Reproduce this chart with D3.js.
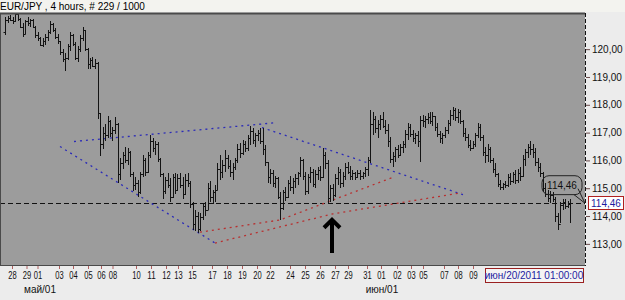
<!DOCTYPE html>
<html>
<head>
<meta charset="utf-8">
<script src="https://cdn.jsdelivr.net/npm/d3@7"></script>
<style>
  body { margin: 0; background: #ececec; }
  svg { display: block; font-family: "Liberation Sans", Arial, sans-serif; }
</style>
</head>
<body>
<script>
// EUR/JPY 4h bars
let hi = [121.15,121.20,121.22,121.15,121.28,121.28,121.12,120.95,121.05,121.15,
    121.10,121.10,120.85,120.60,120.45,120.40,120.55,120.70,121.00,120.95,
    120.75,120.55,120.30,120.00,119.85,120.20,120.60,120.55,120.25,120.10,
    120.50,120.80,120.70,120.05,119.70,119.72,119.65,119.55,117.70,117.20,
    117.30,117.58,117.45,117.20,117.55,117.35,116.10,116.30,116.50,116.45,
    116.35,115.60,115.40,115.30,115.60,116.20,116.10,116.30,116.93,116.80,
    116.70,116.65,116.10,115.55,115.40,115.55,115.35,115.50,115.55,115.50,
    115.55,115.40,115.50,115.55,115.25,114.50,114.20,114.15,114.10,114.45,
    114.50,115.20,115.25,114.95,115.10,115.90,116.20,116.00,116.39,116.20,
    116.00,115.90,116.10,116.60,116.64,116.75,116.70,116.90,117.22,117.15,
    117.00,117.10,117.18,117.15,116.55,115.95,115.70,115.65,115.45,115.40,
    114.85,114.95,115.05,115.30,115.45,115.35,115.50,115.60,116.14,116.05,
    115.60,115.50,115.75,115.70,115.65,115.75,115.80,116.46,116.30,116.00,
    115.10,115.15,115.50,115.75,115.70,115.60,115.90,115.96,115.80,115.65,
    115.60,115.65,115.65,115.60,115.75,116.14,117.83,117.75,117.60,117.45,
    117.65,117.73,117.45,117.30,116.85,116.30,116.50,116.55,116.60,116.70,
    117.10,117.36,117.30,117.10,117.00,117.05,117.60,117.65,117.60,117.70,
    117.73,117.75,117.60,117.35,117.05,117.00,117.20,117.45,117.80,117.91,
    117.88,117.85,117.80,117.45,117.15,116.95,116.75,116.70,117.00,117.36,
    117.30,116.90,116.50,116.60,116.50,116.10,115.90,115.55,115.30,115.20,
    115.25,115.50,115.55,115.60,115.65,115.70,115.78,116.20,116.40,116.60,
    116.71,116.60,116.45,116.10,115.90,115.60,115.20,114.95,114.90,114.85,
    114.70,114.10,114.50,114.60,114.62,114.55,114.60];
let lo = [120.50,120.95,121.00,120.90,120.98,121.02,120.75,120.45,120.55,120.85,
    120.80,120.75,120.40,120.30,120.10,120.07,120.15,120.30,120.55,120.60,
    120.35,120.20,119.80,119.55,119.20,119.60,119.95,120.10,119.60,119.55,
    119.90,120.30,119.95,119.30,119.30,119.35,119.28,117.50,116.15,116.40,
    116.70,116.80,116.85,116.70,116.95,115.20,115.30,115.70,115.90,115.85,
    115.40,114.90,114.95,114.69,114.80,115.40,115.45,115.55,116.10,116.30,
    116.20,115.95,115.40,114.60,114.80,115.00,114.50,114.65,114.80,114.90,
    115.00,114.60,114.75,115.05,114.30,113.50,113.45,113.39,113.45,113.85,
    114.00,114.20,114.50,114.45,114.50,114.95,115.30,115.35,115.60,115.70,
    115.40,115.30,115.65,115.90,116.10,116.20,116.30,116.35,116.55,116.60,
    116.50,116.70,116.60,116.20,115.80,115.20,115.15,115.05,115.00,114.60,
    113.86,114.20,114.55,114.65,114.90,114.80,115.00,115.10,115.40,115.30,
    114.75,114.80,115.20,115.05,115.00,115.30,115.25,115.35,115.70,114.48,
    114.50,114.55,114.70,115.10,115.00,115.05,115.30,115.50,115.30,115.30,
    115.31,115.35,115.30,115.32,115.40,115.45,115.90,116.90,117.00,116.80,
    117.10,117.15,116.95,116.50,115.90,115.78,115.95,116.10,116.15,116.25,
    116.45,116.75,116.85,116.65,116.60,116.50,115.95,117.20,117.15,117.30,
    117.30,117.25,117.05,116.85,116.64,116.60,116.80,116.95,117.25,117.45,
    117.40,117.35,117.30,116.85,116.70,116.45,116.35,116.40,116.50,116.80,
    116.70,116.15,115.92,115.95,115.90,115.55,115.40,115.05,114.95,114.95,
    115.00,115.05,115.10,115.20,115.15,115.20,115.25,115.40,115.80,116.10,
    116.20,116.10,115.80,115.60,115.40,114.85,114.70,114.50,114.48,114.50,
    113.80,113.50,113.75,114.20,114.25,114.30,113.75];
let op = [120.60,121.05,121.12,121.05,121.00,121.25,121.10,120.80,120.55,121.00,
    120.95,121.05,120.80,120.50,120.40,120.15,120.30,120.45,120.60,120.90,
    120.70,120.45,120.30,119.90,119.65,119.70,120.10,120.50,120.20,119.70,
    120.00,120.40,120.70,120.00,119.45,119.60,119.40,119.50,117.70,116.60,
    117.00,116.90,117.40,117.00,117.10,117.30,115.50,115.90,116.20,116.00,
    116.30,115.50,115.10,115.20,114.85,115.50,116.00,115.60,116.20,116.70,
    116.45,116.60,116.05,115.50,114.90,115.30,115.10,114.70,115.40,114.95,
    115.35,115.10,114.80,115.30,115.20,114.45,113.70,114.00,113.55,113.95,
    114.35,114.20,115.00,114.70,114.85,114.95,115.70,115.60,115.85,116.10,
    115.80,115.60,115.75,116.00,116.40,116.25,116.60,116.45,116.80,117.05,
    116.75,116.90,117.00,116.70,116.40,115.95,115.40,115.55,115.20,115.35,
    114.70,114.30,114.85,114.70,115.20,115.05,115.25,115.35,115.55,116.00,
    115.45,114.90,115.40,115.60,115.15,115.50,115.65,115.40,116.20,115.90,
    114.65,115.00,114.75,115.35,115.60,115.20,115.45,115.75,115.60,115.45,
    115.55,115.40,115.55,115.45,115.55,115.70,116.00,117.30,117.50,117.15,
    117.30,117.50,117.25,117.10,116.70,116.05,116.15,116.40,116.20,116.50,
    116.60,116.95,117.20,116.95,116.80,116.90,116.70,117.45,117.40,117.50,
    117.55,117.40,117.60,117.20,116.95,116.80,116.90,117.10,117.35,117.65,
    117.80,117.55,117.75,117.40,117.00,116.85,116.55,116.45,116.60,116.90,
    117.20,116.85,116.30,116.20,116.40,116.00,115.70,115.50,115.15,115.05,
    115.15,115.10,115.40,115.25,115.50,115.30,115.55,115.45,116.05,116.30,
    116.50,116.40,116.30,115.95,115.75,115.55,115.00,114.80,114.65,114.75,
    114.60,114.00,113.70,114.40,114.50,114.35,114.45];
let cl = [121.05,121.12,121.05,121.00,121.25,121.10,120.80,120.55,121.00,120.95,
    121.05,120.80,120.50,120.40,120.15,120.30,120.45,120.60,120.90,120.70,
    120.45,120.30,119.90,119.65,119.70,120.10,120.50,120.20,119.70,120.00,
    120.40,120.70,120.00,119.45,119.60,119.40,119.50,117.70,116.60,117.00,
    116.90,117.40,117.00,117.10,117.30,115.50,115.90,116.20,116.00,116.30,
    115.50,115.10,115.20,114.85,115.50,116.00,115.60,116.20,116.70,116.45,
    116.60,116.05,115.50,114.90,115.30,115.10,114.70,115.40,114.95,115.35,
    115.10,114.80,115.30,115.20,114.45,113.70,114.00,113.55,113.95,114.35,
    114.20,115.00,114.70,114.85,114.95,115.70,115.60,115.85,116.10,115.80,
    115.60,115.75,116.00,116.40,116.25,116.60,116.45,116.80,117.05,116.75,
    116.90,117.00,116.70,116.40,115.95,115.40,115.55,115.20,115.35,114.70,
    114.30,114.85,114.70,115.20,115.05,115.25,115.35,115.55,116.00,115.45,
    114.90,115.40,115.60,115.15,115.50,115.65,115.40,116.20,115.90,114.65,
    115.00,114.75,115.35,115.60,115.20,115.45,115.75,115.60,115.45,115.55,
    115.40,115.55,115.45,115.55,115.70,116.00,117.30,117.50,117.15,117.30,
    117.50,117.25,117.10,116.70,116.05,116.15,116.40,116.20,116.50,116.60,
    116.95,117.20,116.95,116.80,116.90,116.70,117.45,117.40,117.50,117.55,
    117.40,117.60,117.20,116.95,116.80,116.90,117.10,117.35,117.65,117.80,
    117.55,117.75,117.40,117.00,116.85,116.55,116.45,116.60,116.90,117.20,
    116.85,116.30,116.20,116.40,116.00,115.70,115.50,115.15,115.05,115.15,
    115.10,115.40,115.25,115.50,115.30,115.55,115.45,116.05,116.30,116.50,
    116.40,116.30,115.95,115.75,115.55,115.00,114.80,114.65,114.75,114.60,
    114.00,113.70,114.40,114.50,114.35,114.45,114.46];

let lastPrice = 114.46;
let priceTicks = [113, 114, 115, 116, 117, 118, 119, 120];

// date labels and the bar index they sit on
let dayLabels = ["28","29","01","03","04","05","06","08","10","11","12","13","15",
    "17","18","19","20","22","24","25","26","27","29","31","01","02","03","05","07","08","09"];
let dayBars = [2.8,8.6,13.0,21.6,27.2,33.2,38.4,43.0,52.4,58.4,64.4,69.2,74.8,
    82.8,88.8,94.8,100.8,106,114,120,126,132,137.2,144.8,150.4,156.8,162.4,167.2,175.6,181.2,187.2];
let monthLabels = ["май/01", "июн/01"];
let monthBars = [14, 150.8];
let cursorLabel = "июн/20/2011 01:00:00";

// hand drawn trend lines, [bar index, price]
let blueLines = [
    [[27.6, 116.68], [108.8, 117.36]],
    [[22, 116.50], [84, 113.03]],
    [[102.8, 117.18], [183.2, 114.77]]
];
let redLines = [
    [[78, 113.42], [110, 113.86], [156, 115.42]],
    [[84, 113.03], [131.2, 114.08], [182.8, 114.84]]
];
let arrow = [[130.8, 112.67], [130.8, 113.94]];

let w = 625;
let h = 300;
let plotL = 0, plotR = 585, plotT = 13, plotB = 265;

let svg = d3.select("body")
    .append("svg")
    .attr("width", w)
    .attr("height", h);

let xScale = d3.scaleLinear()
    .domain([0, hi.length - 1])
    .range([5, 570]);

let yScale = d3.scaleLinear()
    .domain([112.24, 121.30])
    .range([plotB, plotT]);

// backgrounds
svg.append("rect").attr("width", w).attr("height", h).attr("fill", "#ececec");
svg.append("rect").attr("width", w).attr("height", 12).attr("fill", "#f3f3ef");
svg.append("rect")
    .attr("x", plotL).attr("y", plotT)
    .attr("width", plotR - plotL).attr("height", plotB - plotT)
    .attr("fill", "#9c9c9c");

svg.append("clipPath").attr("id", "plotclip")
    .append("rect")
    .attr("x", plotL).attr("y", plotT)
    .attr("width", plotR - plotL).attr("height", plotB - plotT);

let plot = svg.append("g").attr("clip-path", "url(#plotclip)");

// last price line
plot.append("line")
    .attr("x1", plotL).attr("x2", plotR)
    .attr("y1", Math.round(yScale(lastPrice)) + 0.5)
    .attr("y2", Math.round(yScale(lastPrice)) + 0.5)
    .attr("stroke", "#111")
    .attr("stroke-dasharray", "5,3");

let line = d3.line()
    .x(function(d) { return xScale(d[0]); })
    .y(function(d) { return yScale(d[1]); });

plot.selectAll("path.blue")
    .data(blueLines)
    .join("path")
    .attr("class", "blue")
    .attr("d", line)
    .attr("fill", "none")
    .attr("stroke", "#2b2bb8")
    .attr("stroke-width", 1.3)
    .attr("stroke-dasharray", "2,4");

plot.selectAll("path.red")
    .data(redLines)
    .join("path")
    .attr("class", "red")
    .attr("d", line)
    .attr("fill", "none")
    .attr("stroke", "#b83030")
    .attr("stroke-width", 1.3)
    .attr("stroke-dasharray", "2,4");

// OHLC bars
plot.selectAll("path.bar")
    .data(d3.range(hi.length))
    .join("path")
    .attr("class", "bar")
    .attr("d", function(i) {
        let x = Math.round(xScale(i)) + 0.5;
        let yo = Math.round(yScale(op[i])) + 0.5;
        let yc = Math.round(yScale(cl[i])) + 0.5;
        return "M" + x + "," + Math.round(yScale(hi[i])) + "V" + Math.round(yScale(lo[i])) +
            "M" + (x - 2) + "," + yo + "H" + x +
            "M" + x + "," + yc + "H" + (x + 2);
    })
    .attr("fill", "none")
    .attr("stroke", "#141414")
    .attr("stroke-width", 1);

// arrow
let ax = xScale(arrow[0][0]);
let ayTail = yScale(arrow[0][1]);
let ayTip = yScale(arrow[1][1]);
plot.append("path")
    .attr("d", "M" + ax + "," + ayTail + "V" + (ayTip + 2) +
        "M" + (ax - 8) + "," + (ayTip + 10) + "L" + ax + "," + (ayTip + 2) + "L" + (ax + 8) + "," + (ayTip + 10))
    .attr("fill", "none")
    .attr("stroke", "#000")
    .attr("stroke-width", 4)
    .attr("stroke-linejoin", "miter");

// callout bubble with last price
let bx0 = xScale(214.8), bx1 = xScale(230.8);
let by0 = yScale(115.45), by1 = yScale(114.77);
plot.append("path")
    .attr("d", "M" + (bx1 - 4) + "," + (by1 - 6) + "L" + (plotR) + "," + yScale(lastPrice) +
        "L" + (bx1 - 8) + "," + by1)
    .attr("fill", "none")
    .attr("stroke", "#222");
plot.append("rect")
    .attr("x", bx0).attr("y", by0)
    .attr("width", bx1 - bx0).attr("height", by1 - by0)
    .attr("rx", 7)
    .attr("fill", "none")
    .attr("stroke", "#222");
plot.append("text")
    .attr("x", (bx0 + bx1) / 2)
    .attr("y", (by0 + by1) / 2 + 4)
    .attr("text-anchor", "middle")
    .attr("font-size", 10)
    .attr("fill", "#111")
    .text(d3.format(".2f")(lastPrice).replace(".", ","));

// frame
svg.append("line").attr("x1", 0).attr("x2", plotR).attr("y1", plotT + 0.5).attr("y2", plotT + 0.5)
    .attr("stroke", "#4a4a4a").attr("stroke-width", 2);
svg.append("line").attr("x1", 0.5).attr("x2", 0.5).attr("y1", plotT).attr("y2", plotB)
    .attr("stroke", "#4a4a4a");
svg.append("line").attr("x1", 0).attr("x2", plotR).attr("y1", plotB + 0.5).attr("y2", plotB + 0.5)
    .attr("stroke", "#4a4a4a");
svg.append("line").attr("x1", plotR + 0.5).attr("x2", plotR + 0.5).attr("y1", plotT).attr("y2", plotB + 1)
    .attr("stroke", "#111").attr("stroke-dasharray", "4,2");

// right price axis
let yAxis = d3.axisRight(yScale)
    .tickValues(priceTicks)
    .tickSize(4)
    .tickPadding(2)
    .tickFormat(function(d) { return d3.format(".2f")(d).replace(".", ","); });
let ya = svg.append("g")
    .attr("transform", "translate(" + (plotR + 1) + ",0)")
    .call(yAxis);
ya.select(".domain").remove();
ya.selectAll("line").attr("stroke", "#6a4a4a");
ya.selectAll("text").attr("font-size", 10).attr("fill", "#111")
    .attr("font-family", "Liberation Sans, Arial, sans-serif");

// current price box on the axis
let py = yScale(lastPrice);
svg.append("rect")
    .attr("x", plotR + 3.5).attr("y", Math.round(py) - 6.5)
    .attr("width", 35).attr("height", 13)
    .attr("fill", "#fff").attr("stroke", "#b02020");
svg.append("text")
    .attr("x", plotR + 6).attr("y", Math.round(py) + 4)
    .attr("font-size", 10).attr("fill", "#1c1ca0")
    .text(d3.format(".2f")(lastPrice).replace(".", ","));

// bottom date axis
let xAxis = d3.axisBottom(xScale)
    .tickValues(dayBars)
    .tickSize(3)
    .tickPadding(3)
    .tickFormat(function(d, i) { return dayLabels[i]; });
let xa = svg.append("g")
    .attr("transform", "translate(0," + (plotB + 1) + ")")
    .call(xAxis);
xa.select(".domain").remove();
xa.selectAll("line").attr("stroke", "#b06060");
xa.selectAll("text").attr("font-size", 10).attr("fill", "#111")
    .attr("font-family", "Liberation Sans, Arial, sans-serif")
    .attr("textLength", 8.4)
    .attr("lengthAdjust", "spacingAndGlyphs");

svg.selectAll("text.month")
    .data(monthLabels)
    .join("text")
    .attr("class", "month")
    .attr("x", function(d, i) { return xScale(monthBars[i]); })
    .attr("y", 293)
    .attr("text-anchor", "middle")
    .attr("font-size", 10)
    .attr("fill", "#111")
    .text(function(d) { return d; });

// cursor date box
let cx0 = xScale(192), cx1 = xScale(231.2);
svg.append("rect")
    .attr("x", Math.round(cx0) + 0.5).attr("y", plotB + 3.5)
    .attr("width", Math.round(cx1 - cx0)).attr("height", 14)
    .attr("fill", "#f4f4f4").attr("stroke", "#9a2020");
svg.append("text")
    .attr("x", (cx0 + cx1) / 2).attr("y", plotB + 14)
    .attr("text-anchor", "middle")
    .attr("font-size", 10).attr("fill", "#1c1ca0")
    .text(cursorLabel);

// title
svg.append("text")
    .attr("x", 0).attr("y", 10)
    .attr("font-size", 10)
    .attr("fill", "#000")
    .text("EUR/JPY , 4 hours, # 229 / 1000");
</script>
</body>
</html>
